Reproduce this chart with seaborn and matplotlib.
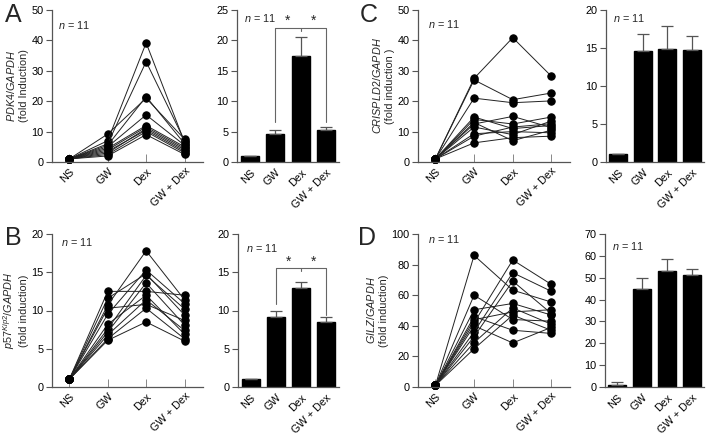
import numpy as np
import pandas as pd
import matplotlib
matplotlib.use("Agg")
import matplotlib.pyplot as plt
import seaborn as sns

sns.set_theme(style="ticks")
plt.rcParams["font.family"] = ["Liberation Sans", "DejaVu Sans"]
plt.rcParams.update({
    "mathtext.fontset": "custom",
    "mathtext.rm": "Liberation Sans",
    "mathtext.it": "Liberation Sans:italic",
    "axes.edgecolor": "#555555",
    "axes.linewidth": 0.9,
    "xtick.color": "#555555",
    "ytick.color": "#555555",
    "xtick.labelcolor": "black",
    "ytick.labelcolor": "black",
})

conds = ["NS", "GW", "Dex", "GW + Dex"]

# Datos individuales (n = 11) por panel: NS, GW, Dex, GW + Dex
pdk4_ns = [1.0] * 11
pdk4_gw = [9.2, 7.0, 6.0, 5.5, 5.0, 4.5, 4.0, 3.5, 3.0, 2.5, 2.0]
pdk4_dex = [21.0, 39.2, 33.0, 21.5, 15.5, 12.0, 11.5, 10.5, 11.0, 10.0, 9.0]
pdk4_gwdex = [7.5, 6.5, 7.0, 6.0, 5.5, 5.0, 4.5, 3.5, 4.0, 3.0, 2.5]

p57_ns = [1.0] * 11
p57_gw = [12.5, 11.6, 10.7, 10.3, 9.5, 8.2, 7.6, 7.2, 6.8, 6.3, 6.1]
p57_dex = [12.5, 14.8, 17.8, 10.8, 15.3, 12.0, 14.6, 13.6, 11.4, 10.3, 8.5]
p57_gwdex = [12.0, 9.4, 11.4, 8.7, 10.9, 6.9, 10.2, 8.1, 7.4, 6.3, 6.0]

cris_ns = [1.0] * 11
cris_gw = [27.5, 27.0, 21.0, 14.8, 14.0, 13.0, 12.5, 11.5, 9.3, 8.5, 6.3]
cris_dex = [40.9, 20.5, 19.5, 11.0, 12.5, 7.0, 15.0, 9.0, 10.0, 11.5, 8.0]
cris_gwdex = [28.2, 22.7, 20.1, 12.0, 14.8, 10.5, 11.3, 13.5, 9.6, 12.6, 8.5]

gilz_ns = [1.0] * 11
gilz_gw = [86.0, 60.0, 50.5, 46.0, 44.0, 42.0, 40.0, 36.0, 33.0, 29.0, 25.0]
gilz_dex = [63.3, 44.1, 54.6, 37.1, 49.1, 83.0, 28.8, 74.7, 69.2, 51.7, 47.0]
gilz_gwdex = [55.5, 43.0, 47.0, 35.0, 50.5, 67.0, 39.0, 62.5, 48.0, 41.0, 37.0]

pdk4_mean = [1.0, 4.6, 17.5, 5.2]
pdk4_top = [1.0, 5.2, 20.6, 5.8]
p57_mean = [1.0, 9.2, 12.9, 8.5]
p57_top = [1.0, 9.9, 13.7, 9.1]
cris_mean = [1.0, 14.6, 14.9, 14.7]
cris_top = [1.0, 16.9, 17.9, 16.6]
gilz_mean = [1.0, 44.8, 53.2, 51.1]
gilz_top = [2.5, 50.0, 58.4, 54.0]

W, H = 709, 434
FS = 7.8
fig = plt.figure(figsize=(W / 100, H / 100), dpi=100)


def box(x0, x1, ytop, ybot):
    return [x0 / W, 1 - ybot / H, (x1 - x0) / W, (ybot - ytop) / H]


def line_panel(rect, series, ymax, ystep, ylabel, ntxt):
    ax = fig.add_axes(rect)
    rows = []
    for pos, vals in enumerate(series):
        for s, v in enumerate(vals):
            rows.append({"pos": pos, "val": v, "subj": s})
    df = pd.DataFrame(rows)
    sns.lineplot(data=df, x="pos", y="val", units="subj", estimator=None,
                 color="#222222", lw=0.7, marker="o", markersize=5.3,
                 markerfacecolor="black", markeredgecolor="black", ax=ax,
                 clip_on=False)
    ax.set_xlim(-0.45, 3.48)
    ax.set_ylim(0, ymax)
    ax.set_yticks(np.arange(0, ymax + 1, ystep))
    ax.set_xticks(range(4))
    ax.set_xticklabels(conds, rotation=45, ha="right", rotation_mode="anchor")
    ax.set_xlabel("")
    ax.set_ylabel(ylabel, fontsize=FS, labelpad=2)
    ax.tick_params(axis="both", labelsize=FS, length=4, width=0.8, pad=2)
    ax.tick_params(axis="x", direction="in", length=6, width=0.7,
                   color="#888888", pad=3)
    ax.text(ntxt[0], ntxt[1], r"$\it{n}$ = 11", transform=ax.transAxes,
            fontsize=FS, va="center")
    sns.despine(ax=ax)
    return ax


def bar_panel(rect, means, tops, ymax, ystep, ntxt):
    ax = fig.add_axes(rect)
    sns.barplot(x=conds, y=means, color="black", width=0.72, ax=ax,
                edgecolor="black")
    lower = np.zeros(len(means))
    upper = np.array(tops) - np.array(means)
    ax.errorbar(range(4), means, yerr=[lower, upper], fmt="none",
                ecolor="#555555", elinewidth=0.9, capsize=4, capthick=0.9)
    ax.set_xlim(-0.5, 3.5)
    ax.set_ylim(0, ymax)
    ax.set_yticks(np.arange(0, ymax + 1, ystep))
    ax.set_xticks(range(4))
    ax.set_xticklabels(conds, rotation=45, ha="right", rotation_mode="anchor")
    ax.tick_params(axis="both", labelsize=FS, length=4, width=0.8, pad=2)
    ax.tick_params(axis="x", length=0, pad=4)
    ax.text(ntxt[0], ntxt[1], r"$\it{n}$ = 11", transform=ax.transAxes,
            fontsize=FS, va="center")
    sns.despine(ax=ax)
    return ax


def bracket(ax, y, left_end, right_end, star_y):
    c = "#666666"
    ax.plot([1, 1, 3, 3], [left_end, y, y, right_end], color=c, lw=0.8)
    ax.plot([2, 2], [y, y - (star_y - y) * 0.4], color=c, lw=0.8)
    for xs in (1.5, 2.5):
        ax.text(xs, star_y, "*", ha="center", va="center", fontsize=10)


# Fila superior
axA = line_panel(box(52, 203, 10, 162), [pdk4_ns, pdk4_gw, pdk4_dex, pdk4_gwdex],
                 50, 10, r"$\it{PDK4/GAPDH}$" + "\n(fold Induction)", (0.04, 0.90))
axA2 = bar_panel(box(237, 339, 10, 162), pdk4_mean, pdk4_top, 25, 5, (0.07, 0.95))
bracket(axA2, 22.0, 6.5, 6.5, 23.3)

axC = line_panel(box(418, 570, 10, 162), [cris_ns, cris_gw, cris_dex, cris_gwdex],
                 50, 10, r"$\it{CRISPLD2/GAPDH}$" + "\n(fold induction )", (0.066, 0.91))
axC2 = bar_panel(box(606, 704, 10, 162), cris_mean, cris_top, 20, 5, (0.07, 0.95))

# Fila inferior
axB = line_panel(box(52, 203, 234, 387), [p57_ns, p57_gw, p57_dex, p57_gwdex],
                 20, 5, r"$\it{p57}^{\it{Kip2}}\it{/GAPDH}$" + "\n(fold induction)",
                 (0.06, 0.95))
axB2 = bar_panel(box(238, 339, 234, 387), p57_mean, p57_top, 20, 5, (0.08, 0.91))
bracket(axB2, 15.5, 10.9, 9.4, 16.4)

axD = line_panel(box(418, 570, 234, 387), [gilz_ns, gilz_gw, gilz_dex, gilz_gwdex],
                 100, 20, r"$\it{GILZ/GAPDH}$" + "\n(fold induction)", (0.066, 0.97))
axD2 = bar_panel(box(605, 704, 234, 387), gilz_mean, gilz_top, 70, 10, (0.07, 0.92))

# Letras de los paneles
for letter, x, y in [("A", 5, 15), ("C", 360, 15), ("B", 5, 238), ("D", 358, 238)]:
    fig.text(x / W, 1 - y / H, letter, fontsize=18, ha="left", va="center")

fig.savefig("out.png", dpi=100)
